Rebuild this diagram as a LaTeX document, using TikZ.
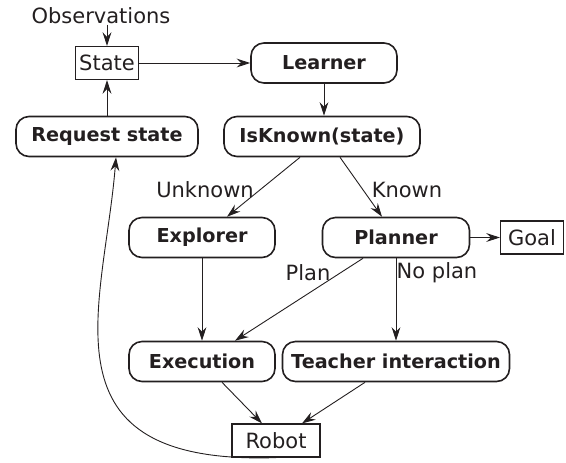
\documentclass[tikz,border=0pt]{standalone}
\usepackage{fontspec}
\setmainfont{DejaVu Sans}
\usepackage{xcolor}
\usetikzlibrary{arrows.meta}
\definecolor{ink}{HTML}{231F20}
\tikzset{
    stage/.style={draw=ink, line width=0.8pt, rounded corners=6.5pt, minimum height=20pt, inner sep=0pt, font=\fontsize{9.6}{11}\selectfont\bfseries},
    datum/.style={draw=ink, line width=0.6pt, minimum height=16.5pt, inner sep=0pt},
    flow/.style={draw=ink, line width=0.45pt, -{Stealth[length=6.8pt, width=4.4pt, inset=2.3pt]}},
    tag/.style={inner sep=0pt},
}

\begin{document}
\begin{tikzpicture}[x=0.5pt, y=-0.5pt, text=ink, font=\fontsize{10.5}{12.5}\selectfont]
        \useasboundingbox (0,0) rectangle (566,462);
        \node[tag](obs) at (101,16) {Observations};
        \node[datum, minimum width=31.5pt](state) at (107,63) {State};
        \node[stage, minimum width=73pt](learner) at (324,63) {Learner};
        \node[stage, minimum width=91pt](request) at (107,136.5) {Request state};
        \node[stage, minimum width=98pt](isknown) at (322,136.5) {IsKnown(state)};
        \node[stage, minimum width=73pt](explorer) at (202,237.5) {Explorer};
        \node[stage, minimum width=73.5pt](planner) at (396,237.5) {Planner};
        \node[datum, minimum width=31.5pt](goal) at (532,237.5) {Goal};
        \node[stage, minimum width=73pt](execution) at (202,361.5) {Execution};
        \node[stage, minimum width=113.5pt](teacher) at (396,361.5) {Teacher interaction};
        \node[datum, minimum width=44pt](robot) at (276,440.5) {Robot};
        \draw[flow] (obs.south -| state.north) -- (state.north);
        \draw[flow] (state.east) -- (learner.west);
        \draw[flow] (learner.south) -- (learner.south |- isknown.north);
        \draw[flow] (request.north) -- (state.south);
        \draw[flow] ([xshift=-11pt]isknown.south) -- ([xshift=12.5pt]explorer.north);
        \draw[flow] ([xshift=9pt]isknown.south) -- ([xshift=-7pt]planner.north);
        \draw[flow] (planner.east) -- (goal.west);
        \draw[flow] (explorer.south) -- (execution.north);
        \draw[flow] ([xshift=-16.5pt]planner.south) -- ([xshift=16.5pt]execution.north);
        \draw[flow] (planner.south) -- (teacher.north);
        \draw[flow] ([xshift=10pt]execution.south) -- ([xshift=-7pt]robot.north);
        \draw[flow] ([xshift=-15.5pt]teacher.south) -- ([xshift=13pt]robot.north);
        \draw[flow] (robot.south) .. controls +(-240,8) and +(-12,150) .. ([xshift=4.5pt]request.south);
        \node[tag] at (205,190) {Unknown};
        \node[tag] at (407,190) {Known};
        \node[tag] at (308,273) {Plan};
        \node[tag] at (437,273) {No plan};
    \end{tikzpicture}
\end{document}
